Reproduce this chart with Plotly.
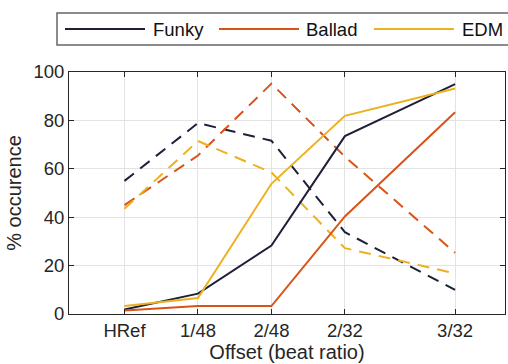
import plotly.graph_objects as go

# ---- data ----
tick_labels = ["HRef", "1/48", "2/48", "2/32", "3/32"]
offsets = [0.0, 1/48, 2/48, 2/32, 3/32]   # beat ratio

funky_solid = [1.9, 8.4, 28.3, 73.5, 95.0]
ballad_solid = [1.4, 3.3, 3.3, 40.3, 83.4]
edm_solid = [3.3, 6.6, 53.8, 81.9, 93.2]

funky_dash = [55.0, 78.9, 71.6, 33.8, 10.0]
ballad_dash = [45.0, 65.5, 95.2, 65.0, 25.3]
edm_dash = [43.5, 71.5, 58.5, 27.2, 16.8]

series_names = ["Funky", "Ballad", "EDM"]
colors = ["#1f1f38", "#d95319", "#edb120"]

W, H = 508, 364
L, R, T, B = 69, 3, 72, 50
pw, ph = W - L - R, H - T - B

def px(x):
    return (x - L) / pw

def py(y):
    return (H - B - y) / ph

fig = go.Figure()
for name, col, sol, das in zip(series_names, colors,
                               [funky_solid, ballad_solid, edm_solid],
                               [funky_dash, ballad_dash, edm_dash]):
    fig.add_trace(go.Scatter(x=offsets, y=das, mode="lines", showlegend=False,
                             line=dict(color=col, width=2, dash="12px,8px")))
for name, col, sol in zip(series_names, colors,
                          [funky_solid, ballad_solid, edm_solid]):
    fig.add_trace(go.Scatter(x=offsets, y=sol, mode="lines", name=name,
                             showlegend=False, line=dict(color=col, width=2)))

axcol = "#262626"
fig.update_xaxes(range=[-0.01573, 0.1079], tickvals=offsets, ticktext=tick_labels,
                 showline=True, linecolor=axcol, linewidth=1, mirror="ticks",
                 ticks="inside", ticklen=5, tickcolor=axcol,
                 showgrid=True, gridcolor="#e3e3e3", gridwidth=1, zeroline=False,
                 tickfont=dict(size=18.5, color=axcol),
                 title=dict(text="Offset (beat ratio)", font=dict(size=20, color=axcol), standoff=2))
fig.update_yaxes(range=[0, 100], tickvals=[0, 20, 40, 60, 80, 100],
                 showline=True, linecolor=axcol, linewidth=1, mirror="ticks",
                 ticks="inside", ticklen=5, tickcolor=axcol,
                 showgrid=True, gridcolor="#e3e3e3", gridwidth=1, zeroline=False,
                 tickfont=dict(size=18.5, color=axcol),
                 title=dict(text="% occurence", font=dict(size=20, color=axcol), standoff=6))

# custom legend (box, line samples, labels)
shapes = [dict(type="rect", xref="paper", yref="paper",
               x0=px(57), x1=px(530), y0=py(45), y1=py(13),
               line=dict(color="#666666", width=1.5), fillcolor="white", layer="above")]
annotations = []
leg = [(65, 145, 151), (219, 299, 304), (374, 454, 460)]
for (x0, x1, xt), name, col in zip(leg, series_names, colors):
    shapes.append(dict(type="line", xref="paper", yref="paper",
                       x0=px(x0), x1=px(x1), y0=py(29), y1=py(29),
                       line=dict(color=col, width=2), layer="above"))
    annotations.append(dict(text=name, xref="paper", yref="paper",
                            x=px(xt), y=py(29), xanchor="left", yanchor="middle",
                            showarrow=False, font=dict(size=18.5, color="#111111")))

fig.update_layout(width=W, height=H, margin=dict(l=L, r=R, t=T, b=B),
                  paper_bgcolor="white", plot_bgcolor="white",
                  font=dict(family="Liberation Sans, Arial, sans-serif"),
                  shapes=shapes, annotations=annotations)

fig.write_html("out.html")
